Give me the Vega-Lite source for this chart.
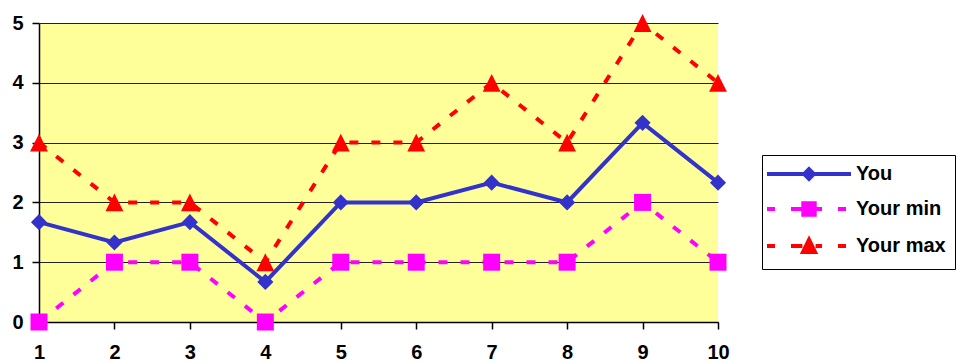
{
  "$schema": "https://vega.github.io/schema/vega-lite/v6.json",
  "autosize": {"type": "none"},
  "padding": {"left": 39, "top": 23, "right": 238, "bottom": 41},
  "width": 679,
  "height": 299,
  "background": "white",
  "config": {
    "view": {"fill": "#FFFF99", "stroke": null},
    "font": "Liberation Sans",
    "axis": {
      "labelFont": "Liberation Sans",
      "labelFontSize": 20,
      "labelFontWeight": "bold",
      "labelColor": "#000000",
      "domainColor": "#000000",
      "domainWidth": 1.5,
      "tickColor": "#000000",
      "tickWidth": 1.5,
      "tickSize": 7,
      "title": null
    }
  },
  "data": {
    "values": [
      {"x": 1, "series": "You", "value": 1.67},
      {"x": 2, "series": "You", "value": 1.33},
      {"x": 3, "series": "You", "value": 1.67},
      {"x": 4, "series": "You", "value": 0.67},
      {"x": 5, "series": "You", "value": 2},
      {"x": 6, "series": "You", "value": 2},
      {"x": 7, "series": "You", "value": 2.33},
      {"x": 8, "series": "You", "value": 2},
      {"x": 9, "series": "You", "value": 3.33},
      {"x": 10, "series": "You", "value": 2.33},
      {"x": 1, "series": "Your min", "value": 0},
      {"x": 2, "series": "Your min", "value": 1},
      {"x": 3, "series": "Your min", "value": 1},
      {"x": 4, "series": "Your min", "value": 0},
      {"x": 5, "series": "Your min", "value": 1},
      {"x": 6, "series": "Your min", "value": 1},
      {"x": 7, "series": "Your min", "value": 1},
      {"x": 8, "series": "Your min", "value": 1},
      {"x": 9, "series": "Your min", "value": 2},
      {"x": 10, "series": "Your min", "value": 1},
      {"x": 1, "series": "Your max", "value": 3},
      {"x": 2, "series": "Your max", "value": 2},
      {"x": 3, "series": "Your max", "value": 2},
      {"x": 4, "series": "Your max", "value": 1},
      {"x": 5, "series": "Your max", "value": 3},
      {"x": 6, "series": "Your max", "value": 3},
      {"x": 7, "series": "Your max", "value": 4},
      {"x": 8, "series": "Your max", "value": 3},
      {"x": 9, "series": "Your max", "value": 5},
      {"x": 10, "series": "Your max", "value": 4}
    ]
  },
  "encoding": {
    "x": {
      "field": "x", "type": "quantitative",
      "scale": {"domain": [1, 10], "nice": false, "zero": false},
      "axis": {"values": [1,2,3,4,5,6,7,8,9,10], "grid": false, "labelPadding": 13, "labelFlush": false, "labelOverlap": false}
    },
    "y": {
      "field": "value", "type": "quantitative",
      "scale": {"domain": [0, 5], "nice": false},
      "axis": {"values": [0,1,2,3,4,5], "grid": true, "gridColor": "#222222", "gridWidth": 1, "labelPadding": 9, "labelFlush": false, "labelOverlap": false}
    }
  },
  "layer": [
    {
      "transform": [{"filter": "datum.series === 'Your max'"}],
      "mark": {"type": "line", "strokeWidth": 4, "strokeCap": "butt", "color": "#FF0000", "strokeDash": [9, 13]}
    },
    {
      "transform": [{"filter": "datum.series === 'Your min'"}],
      "mark": {"type": "line", "strokeWidth": 4, "strokeCap": "butt", "color": "#FF00FF", "strokeDash": [9, 13]}
    },
    {
      "transform": [{"filter": "datum.series === 'You'"}],
      "mark": {"type": "line", "strokeWidth": 4, "strokeCap": "butt", "color": "#3333CC"}
    },
    {
      "transform": [{"filter": "datum.series === 'You'"}],
      "mark": {"type": "point", "filled": true, "opacity": 1, "size": 289, "strokeWidth": 0, "color": "#3333CC", "shape": "M0,-0.95L0.95,0L0,0.95L-0.95,0Z"}
    },
    {
      "transform": [{"filter": "datum.series === 'Your min'"}],
      "mark": {"type": "point", "filled": true, "opacity": 1, "size": 289, "strokeWidth": 0, "color": "#FF00FF", "shape": "M-1,-1H1V1H-1Z"}
    },
    {
      "transform": [{"filter": "datum.series === 'Your max'"}],
      "mark": {"type": "point", "filled": true, "opacity": 1, "size": 289, "strokeWidth": 0, "color": "#FF0000", "shape": "M0,-1.05L1.05,1.05L-1.05,1.05Z"}
    },
    {
      "transform": [{"filter": "false"}],
      "mark": {"type": "point", "filled": true, "opacity": 1, "size": 144},
      "encoding": {
        "shape": {"field": "series", "type": "nominal",
          "scale": {"domain": ["You", "Your min", "Your max"], "range": [
            "M-7,0H7M0,-0.8L0.8,0L0,0.8L-0.8,0Z",
            "M-7,0H-5.67M-3,0H-1M1,0H2.17M4.83,0H6.17M-0.95,-0.95H0.95V0.95H-0.95Z",
            "M-7,0H-5.67M-3,0H-1.1M1.1,0H2.17M4.83,0H6.17M0,-1.05L1,1L-1,1Z"]},
          "legend": {"title": null, "orient": "none", "legendX": 723, "legendY": 132, "symbolSize": 144, "symbolStrokeWidth": 4, "symbolOpacity": 1, "symbolOffset": 28, "labelFont": "Liberation Sans", "labelFontSize": 20, "labelFontWeight": "bold", "labelColor": "#000000", "labelOffset": 37, "rowPadding": 8, "padding": 9, "strokeColor": "#000000", "fillColor": "#FFFFFF", "labelLimit": 300}},
        "fill": {"field": "series", "type": "nominal",
          "scale": {"domain": ["You", "Your min", "Your max"], "range": ["#3333CC", "#FF00FF", "#FF0000"]},
          "legend": {"title": null, "orient": "none", "legendX": 723, "legendY": 132, "symbolSize": 144, "symbolStrokeWidth": 4, "symbolOpacity": 1, "symbolOffset": 28, "labelFont": "Liberation Sans", "labelFontSize": 20, "labelFontWeight": "bold", "labelColor": "#000000", "labelOffset": 37, "rowPadding": 8, "padding": 9, "strokeColor": "#000000", "fillColor": "#FFFFFF", "labelLimit": 300}},
        "stroke": {"field": "series", "type": "nominal",
          "scale": {"domain": ["You", "Your min", "Your max"], "range": ["#3333CC", "#FF00FF", "#FF0000"]},
          "legend": {"title": null, "orient": "none", "legendX": 723, "legendY": 132, "symbolSize": 144, "symbolStrokeWidth": 4, "symbolOpacity": 1, "symbolOffset": 28, "labelFont": "Liberation Sans", "labelFontSize": 20, "labelFontWeight": "bold", "labelColor": "#000000", "labelOffset": 37, "rowPadding": 8, "padding": 9, "strokeColor": "#000000", "fillColor": "#FFFFFF", "labelLimit": 300}}
      }
    }
  ]
}
